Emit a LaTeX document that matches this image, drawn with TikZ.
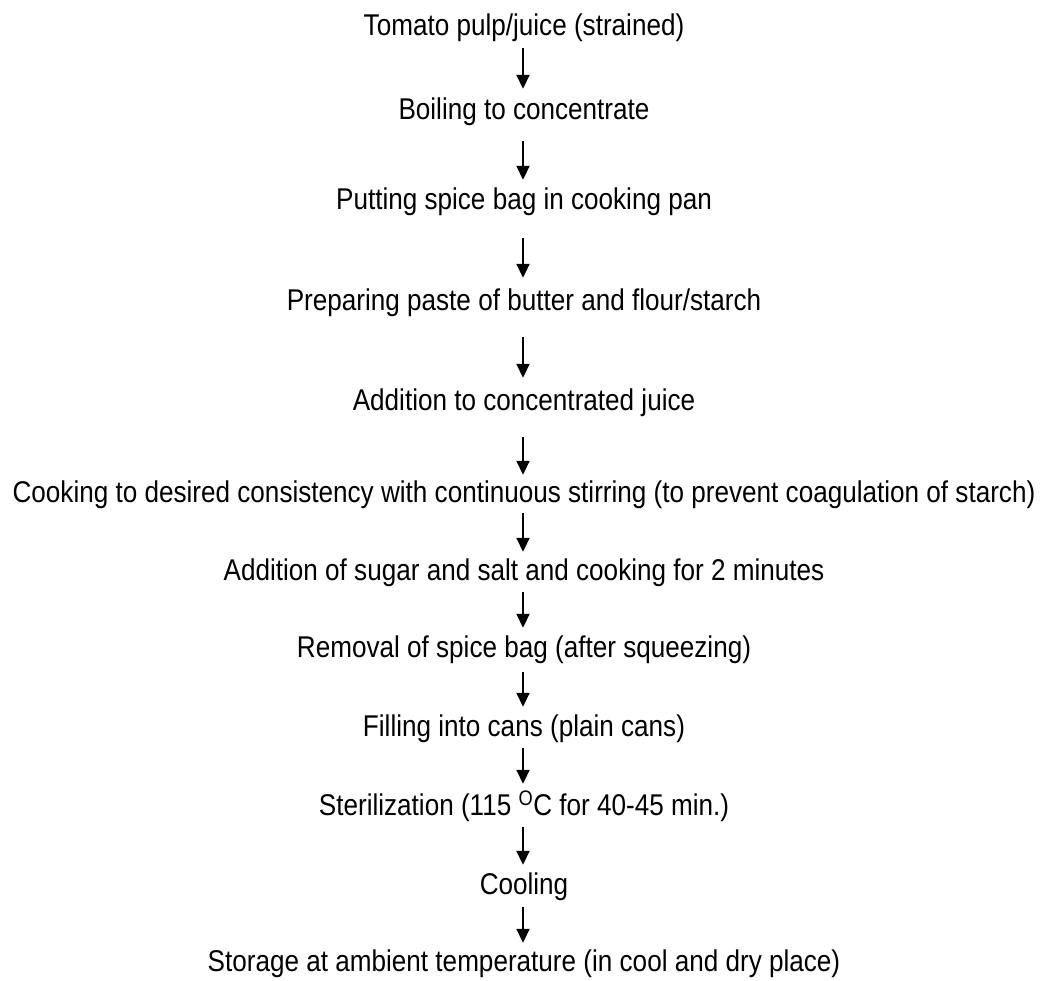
\documentclass[tikz,border=0pt]{standalone}
\usepackage{fontspec}
\setmainfont{Liberation Sans}
\usetikzlibrary{arrows.meta}
\begin{document}
\begin{tikzpicture}[x=1pt,y=1pt,
  stepbox/.style={anchor=base,inner sep=0pt,text height=22pt,text depth=5pt,xscale=0.87,transform shape,font=\fontsize{30pt}{34pt}\selectfont},
  flow/.style={-{Triangle[length=14pt,width=13pt]},line width=1.8pt}]
\useasboundingbox (0,0) rectangle (1043,-981);
\node[stepbox] (n1) at (524,-36) {Tomato pulp/juice (strained)};
\node[stepbox] (n2) at (524,-120) {Boiling to concentrate};
\node[stepbox] (n3) at (524,-210) {Putting spice bag in cooking pan};
\node[stepbox] (n4) at (524,-310) {Preparing paste of butter and flour/starch};
\node[stepbox] (n5) at (524,-410) {Addition to concentrated juice};
\node[stepbox] (n6) at (524,-502) {Cooking to desired consistency with continuous stirring (to prevent coagulation of starch)};
\node[stepbox] (n7) at (524,-580) {Addition of sugar and salt and cooking for 2 minutes};
\node[stepbox] (n8) at (524,-657) {Removal of spice bag (after squeezing)};
\node[stepbox] (n9) at (524,-736) {Filling into cans (plain cans)};
\node[stepbox] (n10) at (524,-815) {Sterilization (115 \textsuperscript{O}C for 40-45 min.)};
\node[stepbox] (n11) at (524,-894) {Cooling};
\node[stepbox] (n12) at (524,-971) {Storage at ambient temperature (in cool and dry place)};
\draw[flow,shorten <=7pt,shorten >=9pt] ([xshift=-1pt]n1.south) -- ([xshift=-1pt]n2.north);
\draw[flow,shorten <=16pt,shorten >=8pt] ([xshift=-1pt]n2.south) -- ([xshift=-1pt]n3.north);
\draw[flow,shorten <=23pt,shorten >=10pt] ([xshift=-1pt]n3.south) -- ([xshift=-1pt]n4.north);
\draw[flow,shorten <=22pt,shorten >=10pt] ([xshift=-1pt]n4.south) -- ([xshift=-1pt]n5.north);
\draw[flow,shorten <=22pt,shorten >=5pt] ([xshift=-1pt]n5.south) -- ([xshift=-1pt]n6.north);
\draw[flow,shorten <=6pt,shorten >=6pt] ([xshift=-1pt]n6.south) -- ([xshift=-1pt]n7.north);
\draw[flow,shorten <=7pt,shorten >=7pt] ([xshift=-1pt]n7.south) -- ([xshift=-1pt]n8.north);
\draw[flow,shorten <=10pt,shorten >=7pt] ([xshift=-1pt]n8.south) -- ([xshift=-1pt]n9.north);
\draw[flow,shorten <=7pt,shorten >=9pt] ([xshift=-1pt]n9.south) -- ([xshift=-1pt]n10.north);
\draw[flow,shorten <=7pt,shorten >=7pt] ([xshift=-1pt]n10.south) -- ([xshift=-1pt]n11.north);
\draw[flow,shorten <=8pt,shorten >=6pt] ([xshift=-1pt]n11.south) -- ([xshift=-1pt]n12.north);
\end{tikzpicture}
\end{document}
